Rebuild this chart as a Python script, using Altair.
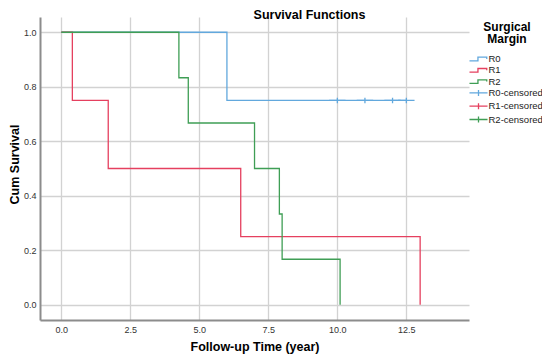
import altair as alt
import pandas as pd

# ---- data ----
r0_time = [0.0, 6.0, 12.5]
r0_surv = [1.0, 0.75, 0.75]
r1_time = [0.0, 0.4, 1.7, 6.5, 13.0]
r1_surv = [1.0, 0.75, 0.5, 0.25, 0.0]
r2_time = [0.0, 4.26, 4.6, 7.0, 7.9, 8.0, 10.1]
r2_surv = [1.0, 0.833, 0.667, 0.5, 0.333, 0.167, 0.0]
r0_cens_time = [10.0, 11.0, 12.0, 12.5]
r0_cens_surv = [0.75, 0.75, 0.75, 0.75]

groups = ["R0", "R1", "R2"]
labels = ["R0", "R1", "R2", "R0-censored", "R1-censored", "R2-censored"]
x_ticks = [0.0, 2.5, 5.0, 7.5, 10.0, 12.5]
y_ticks = [0.0, 0.2, 0.4, 0.6, 0.8, 1.0]

blue, red, green = "#62a8dd", "#e5405f", "#3f9e55"
group_colors = [blue, red, green]
label_colors = [blue, red, green, blue, red, green]
step_path = "M-1.64,0.33 L-0.1,0.33 L-0.1,-0.33 L1.5,-0.33 L1.5,0"
cross_path = "M-1.64,0 L1.64,0 M0,-0.55 L0,0.55"
label_shapes = [step_path] * 3 + [cross_path] * 3

lines = pd.DataFrame(
    [{"group": "R0", "time": t, "surv": s} for t, s in zip(r0_time, r0_surv)]
    + [{"group": "R1", "time": t, "surv": s} for t, s in zip(r1_time, r1_surv)]
    + [{"group": "R2", "time": t, "surv": s} for t, s in zip(r2_time, r2_surv)]
)
cens = pd.DataFrame(
    [{"label": "R0-censored", "time": t, "surv": s} for t, s in zip(r0_cens_time, r0_cens_surv)]
)

FONT = "Liberation Sans"

x_enc = alt.X(
    "time:Q",
    scale=alt.Scale(domain=[-0.772, 14.77], nice=False, zero=False),
    axis=alt.Axis(
        values=x_ticks, format=".1f", title="Follow-up Time (year)",
        titleY=30, titleBaseline="alphabetic", titleFontSize=12.5,
        labelPadding=5,
    ),
)
y_enc = alt.Y(
    "surv:Q",
    scale=alt.Scale(domain=[-0.056, 1.056], nice=False, zero=False),
    axis=alt.Axis(
        values=y_ticks, format=".1f", title="Cum Survival",
        titleX=-26, titleY=147, titleAngle=270, titleAlign="center",
        titleBaseline="middle", titleFontSize=12.5, labelPadding=4,
    ),
)

line_layers = []
for g, c in zip(groups, group_colors):
    line_layers.append(
        alt.Chart(lines).transform_filter(alt.datum.group == g).mark_line(
            interpolate="step-after", strokeWidth=1.3, color=c
        ).encode(x=x_enc, y=y_enc)
    )

leg = alt.Legend(
    title=["Surgical", "Margin"],
    orient="none", legendX=432, legendY=4.5,
    titleFont=FONT, titleFontSize=12, titleFontWeight="bold", titleColor="#000",
    titleAnchor="middle", titleAlign="center", titleLineHeight=12, titlePadding=7,
    labelFont=FONT, labelFontSize=9.5, labelColor="#222", labelOffset=3.5,
    symbolSize=121, symbolStrokeWidth=1.3, rowPadding=0.3, padding=0,
)

point_layer = alt.Chart(cens).mark_point(
    filled=False, strokeWidth=1.3, size=100, opacity=1
).encode(
    x="time:Q",
    y="surv:Q",
    color=alt.Color("label:N", scale=alt.Scale(domain=labels, range=label_colors), legend=leg),
    shape=alt.Shape("label:N", scale=alt.Scale(domain=labels, range=label_shapes), legend=leg),
)

chart = alt.layer(*line_layers, point_layer).properties(
    width=429,
    height=303,
    autosize=alt.AutoSizeParams(type="none"),
    padding={"left": 32, "top": 9, "right": 73, "bottom": 34},
    title=alt.TitleParams(
        "Survival Functions", font=FONT, fontSize=12.5, fontWeight="bold",
        color="#000", anchor="middle", frame="group", dx=55, offset=-14,
        baseline="alphabetic",
    ),
).configure_view(
    stroke=None
).configure_axis(
    domainColor="#8c8c8c", domainWidth=2, gridColor="#d2d2d2", gridWidth=1.3,
    labelColor="#333", labelFont=FONT, labelFontSize=9, ticks=False,
    titleFont=FONT, titleFontWeight="bold", titleColor="#000",
)

chart.save("out.html", embed_options={"renderer": "svg", "actions": False})
